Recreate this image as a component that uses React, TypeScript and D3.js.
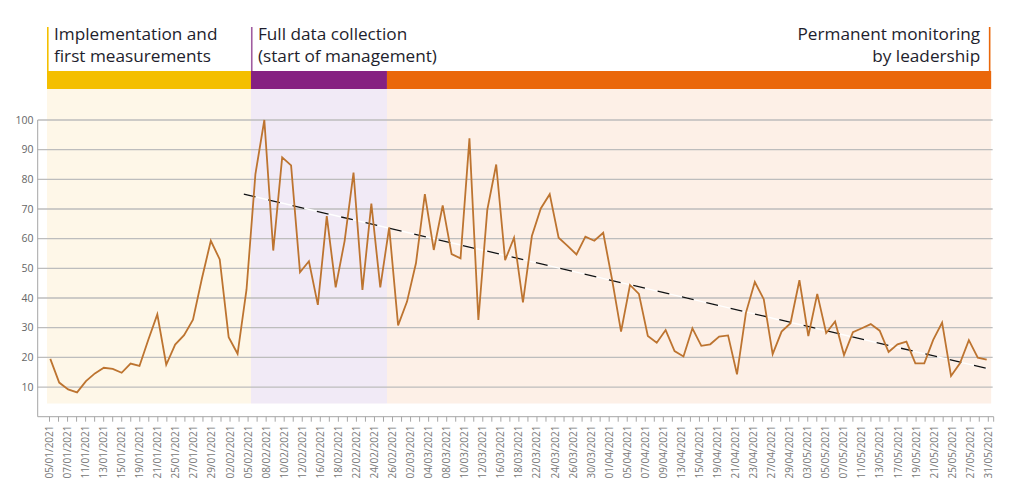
import React from "react";
import * as d3 from "d3";

const values: number[] = [
  19.5, 11.5, 9.2, 8.2, 12, 14.6, 16.5, 16.1, 14.8, 17.9,
  17.1, 26, 34.5, 17.5, 24.3, 27.5, 32.7, 46.6, 59.3, 53,
  26.8, 21.2, 42.8, 81.8, 100, 56, 87.4, 84.7, 48.7, 52.4,
  37.7, 67.6, 43.6, 59.2, 82.3, 42.7, 71.8, 43.6, 63.8, 30.8,
  38.8, 51.7, 75, 56.2, 71.2, 54.8, 53.4, 93.8, 32.6, 69.7,
  85, 52.8, 60.3, 38.5, 60.9, 70.2, 75, 60.3, 57.6, 54.7,
  60.7, 59.3, 62, 46.1, 28.7, 44.4, 41.4, 27.2, 24.9, 29.2,
  22.1, 20.3, 29.8, 23.9, 24.4, 27, 27.4, 14.3, 35, 45.4,
  39.6, 21.1, 28.7, 31.5, 46, 27.2, 41.4, 28.2, 32.1, 20.8,
  28.5, 29.8, 31.2, 29, 21.8, 24.4, 25.3, 18, 18, 25.9,
  31.7, 13.7, 18, 25.8, 19.9, 19.2,
];

const tickLabels: string[] = [
  "05/01/2021", "07/01/2021", "11/01/2021", "13/01/2021", "15/01/2021", "19/01/2021",
  "21/01/2021", "25/01/2021", "27/01/2021", "29/01/2021", "02/02/2021", "05/02/2021",
  "08/02/2021", "10/02/2021", "12/02/2021", "16/02/2021", "18/02/2021", "22/02/2021",
  "24/02/2021", "26/02/2021", "02/03/2021", "04/03/2021", "08/03/2021", "10/03/2021",
  "12/03/2021", "16/03/2021", "18/03/2021", "22/03/2021", "24/03/2021", "26/03/2021",
  "30/03/2021", "01/04/2021", "05/04/2021", "07/04/2021", "09/04/2021", "13/04/2021",
  "15/04/2021", "19/04/2021", "21/04/2021", "23/04/2021", "27/04/2021", "29/04/2021",
  "03/05/2021", "05/05/2021", "07/05/2021", "11/05/2021", "13/05/2021", "17/05/2021",
  "19/05/2021", "21/05/2021", "25/05/2021", "27/05/2021", "31/05/2021",
];

const yTicks: number[] = [10, 20, 30, 40, 50, 60, 70, 80, 90, 100];

// phases (in index units of the series)
const phaseTitles: string[][] = [
  ["Implementation and", "first measurements"],
  ["Full data collection", "(start of management)"],
  ["Permanent monitoring", "by leadership"],
];
const phaseBounds: number[] = [-0.37, 22.5, 37.75, 105.5];
const phaseColors: string[] = ["#F4BF00", "#862181", "#EA670A"];
const phaseLight: string[] = ["#FEF7E8", "#F1EAF6", "#FDF0E7"];
const phaseMarker: string[] = ["#F4BF00", "#A05CA0", "#EA670A"];

// linear trend: [index, value]
const trendStart: [number, number] = [21.7, 75];
const trendEnd: [number, number] = [105, 16.3];

const FONT = "'Open Sans', 'Noto Sans', sans-serif";

export default function App() {
  const W = 1013;
  const H = 499;
  const y = d3.scaleLinear().domain([0, 100]).range([416.7, 120]);
  const x = d3.scaleLinear().domain([0, values.length - 1]).range([50.3, 986.7]);
  const lx = d3.scalePoint<string>().domain(tickLabels).range([49.5, 988.3]);
  const step = lx.step() / 2;
  const tickXs = d3.range(0, tickLabels.length * 2 - 1).map((k) => 49.5 + k * step);

  const line = d3
    .line<number>()
    .x((_, i) => x(i))
    .y((d) => y(d));

  const trendLine = d3
    .line<[number, number]>()
    .x((d) => x(d[0]))
    .y((d) => y(d[1]));
  const trendD = trendLine([trendStart, trendEnd]) || "";

  const axisLeft = 37.7;
  const axisRight = x(105.5) + 1.5;
  const bandTop = 89;
  const bandBottom = 403.5;

  return (
    <svg
      width={W}
      height={H}
      style={{ position: "absolute", left: 0, top: 0, background: "#fff" }}
      fontFamily={FONT}
    >
      {/* background bands */}
      {phaseTitles.map((_, i) => (
        <rect
          key={"bg" + i}
          x={x(phaseBounds[i])}
          y={bandTop}
          width={x(phaseBounds[i + 1]) - x(phaseBounds[i])}
          height={bandBottom - bandTop}
          fill={phaseLight[i]}
        />
      ))}
      {/* header bars */}
      {phaseTitles.map((_, i) => (
        <rect
          key={"hb" + i}
          x={x(phaseBounds[i])}
          y={71}
          width={x(phaseBounds[i + 1]) - x(phaseBounds[i])}
          height={18}
          fill={phaseColors[i]}
        />
      ))}
      {/* phase markers */}
      <line x1={x(phaseBounds[0]) + 0.8} x2={x(phaseBounds[0]) + 0.8} y1={27} y2={71} stroke={phaseMarker[0]} strokeWidth={1.6} />
      <line x1={x(phaseBounds[1]) + 0.8} x2={x(phaseBounds[1]) + 0.8} y1={27} y2={71} stroke={phaseMarker[1]} strokeWidth={1.6} />
      <line x1={x(phaseBounds[3]) - 1.5} x2={x(phaseBounds[3]) - 1.5} y1={27} y2={71} stroke={phaseMarker[2]} strokeWidth={1.6} />

      {/* header texts */}
      {phaseTitles.map((lines, i) => {
        const right = i === 2;
        const tx = right ? x(phaseBounds[3]) - 11 : x(phaseBounds[i]) + 7;
        return (
          <text
            key={"ht" + i}
            x={tx}
            y={39.5}
            fontSize={17.2}
            fill="#1E1E2D"
            textAnchor={right ? "end" : "start"}
          >
            {lines.map((l, j) => (
              <tspan key={j} x={tx} dy={j === 0 ? 0 : 22.2}>
                {l}
              </tspan>
            ))}
          </text>
        );
      })}

      {/* gridlines */}
      {yTicks.map((t) => (
        <line
          key={"g" + t}
          x1={axisLeft}
          x2={axisRight}
          y1={y(t)}
          y2={y(t)}
          stroke="#BDBDBD"
          strokeWidth={1.3}
        />
      ))}
      {/* y axis */}
      <line x1={axisLeft} x2={axisLeft} y1={y(100)} y2={y(0)} stroke="#A6A6A6" strokeWidth={1} />
      {yTicks.map((t) => (
        <text
          key={"yl" + t}
          x={33.5}
          y={y(t)}
          dy="0.35em"
          fontSize={10.5}
          fill="#666"
          textAnchor="end"
        >
          {t}
        </text>
      ))}

      {/* x axis */}
      <line x1={axisLeft} x2={axisRight + 1} y1={y(0)} y2={y(0)} stroke="#A6A6A6" strokeWidth={1} />
      {tickXs.map((tx, k) => (
        <line key={"xt" + k} x1={tx} x2={tx} y1={y(0)} y2={y(0) + 5} stroke="#A6A6A6" strokeWidth={1} />
      ))}
      <line x1={axisRight + 1} x2={axisRight + 1} y1={y(0)} y2={y(0) + 5} stroke="#A6A6A6" strokeWidth={1} />
      {tickLabels.map((l) => (
        <text
          key={"xl" + l}
          transform={`translate(${lx(l)! + 3.5},${425.5}) rotate(-90)`}
          fontSize={10}
          fill="#777"
          textAnchor="end"
        >
          {l}
        </text>
      ))}

      {/* trend */}
      <path d={trendD} stroke="#FFFFFF" strokeWidth={1.4} fill="none" />
      <path d={trendD} stroke="#111" strokeWidth={1.3} strokeDasharray="12 13" fill="none" />

      {/* series */}
      <path
        d={line(values) || ""}
        fill="none"
        stroke="#BD7430"
        strokeWidth={1.8}
        strokeLinejoin="miter"
      />
    </svg>
  );
}
